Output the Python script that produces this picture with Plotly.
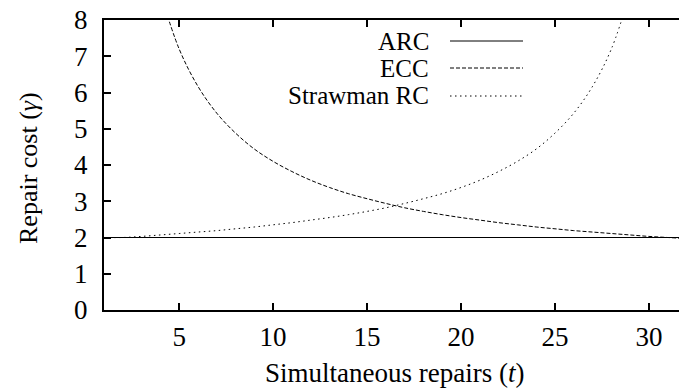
import plotly.graph_objects as go

# ---- data ----
t_arc = [1, 32]
arc = [2.0, 2.0]

t_ecc = [4, 5, 6, 7, 8, 9, 10, 11, 12, 13, 14, 15, 16, 17, 18, 19, 20, 21, 22, 23, 24,
         25, 26, 27, 28, 29, 30, 31, 32]
ecc = [8.75, 7.20, 6.17, 5.43, 4.88, 4.44, 4.10, 3.82, 3.58, 3.38, 3.21, 3.07, 2.94, 2.82,
       2.72, 2.63, 2.55, 2.48, 2.41, 2.35, 2.29, 2.24, 2.19, 2.15, 2.11, 2.07, 2.03, 2.00, 1.97]

t_straw = [1, 2, 3, 4, 5, 6, 7, 8, 9, 10, 11, 12, 13, 14, 15, 16, 17, 18, 19, 20, 21, 22,
           23, 24, 25, 26, 27, 28, 29]
straw = [2.00, 2.00, 2.03, 2.07, 2.11, 2.15, 2.19, 2.24, 2.29, 2.35, 2.41, 2.48, 2.55, 2.63,
         2.72, 2.82, 2.94, 3.07, 3.21, 3.38, 3.58, 3.82, 4.10, 4.44, 4.88, 5.43, 6.17, 7.20, 8.75]

x_ticks = [5, 10, 15, 20, 25, 30]
y_ticks = [0, 1, 2, 3, 4, 5, 6, 7, 8]
series_names = ["ARC", "ECC", "Strawman RC"]

FONT = "Liberation Serif, Times New Roman, serif"
W, H = 679, 391
L, R, T, B = 104, 0, 20, 81

fig = go.Figure()
fig.add_trace(go.Scatter(x=t_arc, y=arc, mode="lines", name=series_names[0],
                         line=dict(color="black", width=1)))
fig.add_trace(go.Scatter(x=t_ecc, y=ecc, mode="lines", name=series_names[1], line_shape="spline",
                         line=dict(color="black", width=1, dash="4px,2px")))
fig.add_trace(go.Scatter(x=t_straw, y=straw, mode="lines", name=series_names[2], line_shape="spline",
                         line=dict(color="black", width=1, dash="1.5px,3.5px")))

pw, ph = W - L - R, H - T - B
def px(xp):
    return (xp - L) / pw
def py(yp):
    return (H - B - yp) / ph

# manual legend (text right-aligned, key to its right)
dashes = ["solid", "4px,2px", "1.5px,3.5px"]
rows = [41, 68, 96]
for name, d, yr in zip(series_names, dashes, rows):
    fig.add_shape(type="line", xref="paper", yref="paper", x0=px(450), x1=px(523),
                  y0=py(yr), y1=py(yr), line=dict(color="black", width=1, dash=d))
    fig.add_annotation(xref="paper", yref="paper", x=px(431), y=py(yr), text=name,
                       showarrow=False, xanchor="right", yanchor="middle",
                       font=dict(family=FONT, size=25, color="black"))

# axis titles
fig.add_annotation(xref="paper", yref="paper", x=px(394), y=py(373), text="Simultaneous repairs (<i>t</i>)",
                   showarrow=False, xanchor="center", yanchor="middle",
                   font=dict(family=FONT, size=27, color="black"))
fig.add_annotation(xref="paper", yref="paper", x=px(28), y=py(168), text="Repair cost (<i>γ</i>)",
                   showarrow=False, xanchor="center", yanchor="middle", textangle=-90,
                   font=dict(family=FONT, size=26, color="black"))

fig.update_layout(
    width=W, height=H,
    margin=dict(l=L, r=R, t=T, b=B),
    paper_bgcolor="white", plot_bgcolor="white",
    showlegend=False,
    font=dict(family=FONT, size=27, color="black"),
)
fig.update_xaxes(range=[1, 31.6], tickvals=x_ticks, ticktext=[str(v) for v in x_ticks],
                 showgrid=False, zeroline=False, showline=True, linecolor="black", linewidth=2,
                 mirror="ticks", ticks="inside", ticklen=7, tickwidth=1.5, tickcolor="black",
                 ticklabelstandoff=2,
                 tickfont=dict(family=FONT, size=27, color="black"))
fig.update_yaxes(range=[0, 8], tickvals=y_ticks, ticktext=[str(v) for v in y_ticks],
                 showgrid=False, zeroline=False, showline=True, linecolor="black", linewidth=2,
                 ticks="inside", ticklen=7, tickwidth=1.5, tickcolor="black",
                 ticklabelstandoff=9,
                 tickfont=dict(family=FONT, size=27, color="black"))

fig.write_html("out.html")
